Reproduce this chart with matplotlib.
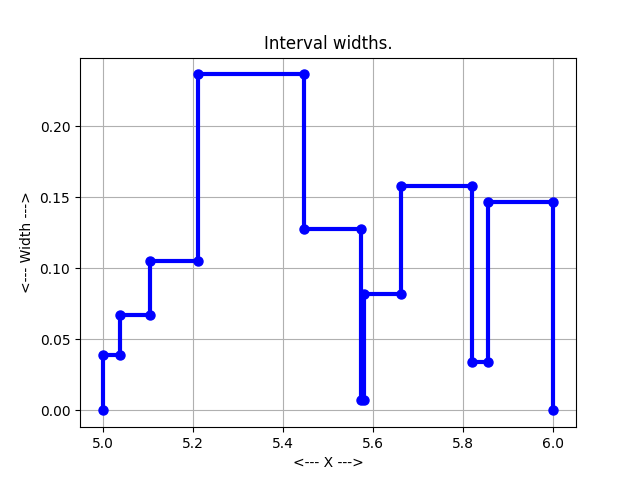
import numpy as np
import matplotlib
matplotlib.use("Agg")
import matplotlib.pyplot as plt

# interval endpoints and widths
edges = [5.0, 5.0378, 5.106, 5.211, 5.4467, 5.574, 5.579, 5.6616, 5.820, 5.8556, 6.0]
widths = [0.0387, 0.0674, 0.105, 0.2366, 0.1275, 0.007, 0.0822, 0.1577, 0.034, 0.1465]

# build the staircase: up at each left edge, across to the right edge
xs = [edges[0]]
ys = [0.0]
for i, w in enumerate(widths):
    xs += [edges[i], edges[i + 1]]
    ys += [w, w]
xs.append(edges[-1])
ys.append(0.0)

plt.figure(figsize=(6.4, 4.8), dpi=100)
plt.plot(xs, ys, 'bo-', linewidth=3, markersize=6.5)
plt.title("Interval widths.")
plt.xlabel("<--- X --->")
plt.ylabel("<--- Width --->")
plt.grid(True)
plt.savefig("out.png", dpi=100)
